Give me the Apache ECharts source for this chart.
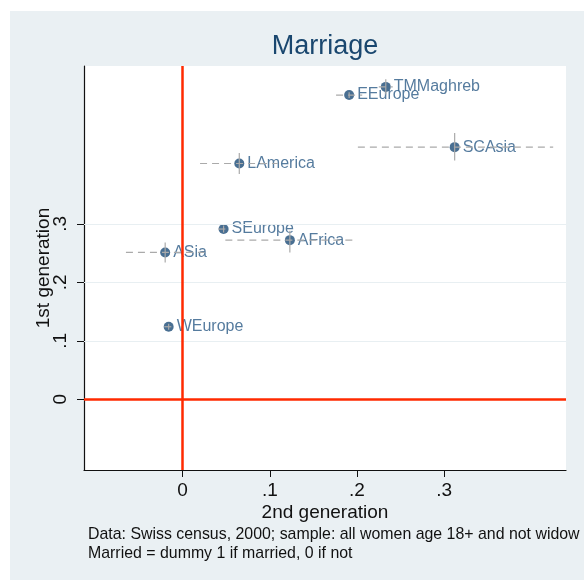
<!DOCTYPE html>
<html>
<head>
<meta charset="utf-8">
<script src="https://cdn.jsdelivr.net/npm/echarts@6/dist/echarts.min.js"></script>
<style>
html,body{margin:0;padding:0;background:#fff;}
#chart{width:584px;height:583px;}
</style>
</head>
<body>
<div id="chart"></div>
<script>
// ---- data ----
const regions   = ['WEurope','ASia','SEurope','AFrica','LAmerica','EEurope','TMMaghreb','SCAsia'];
const gen2      = [-0.016, -0.020, 0.047, 0.123, 0.065, 0.191, 0.233, 0.312];   // x: 2nd generation
const gen1      = [ 0.124,  0.251, 0.291, 0.272, 0.403, 0.520, 0.534, 0.431];   // y: 1st generation
const gen2Low   = [-0.021, -0.065, 0.041, 0.049, 0.020, 0.176, 0.225, 0.201];
const gen2High  = [-0.011,  0.025, 0.053, 0.199, 0.109, 0.206, 0.241, 0.425];
const gen1Low   = [ 0.119,  0.234, 0.285, 0.251, 0.385, 0.515, 0.521, 0.408];
const gen1High  = [ 0.129,  0.268, 0.297, 0.288, 0.421, 0.525, 0.547, 0.455];
const xTickValues = [0, 0.1, 0.2, 0.3];
const xTickLabels = ['0', '.1', '.2', '.3'];
const yTickValues = [0, 0.1, 0.2, 0.3];
const yTickLabels = ['0', '.1', '.2', '.3'];
const refX = [0];
const refY = [0];
const titleText = 'Marriage';
const xName = '2nd generation';
const yName = '1st generation';
const noteLines = ['Data: Swiss census, 2000; sample: all women age 18+ and not widow',
                   'Married = dummy 1 if married, 0 if not'];

const FONT = '"Liberation Sans", Arial, Helvetica, sans-serif';
const NAVY = '#1a476f';

const pts = regions.map((r, i) => ({ name: r, value: [gen2[i], gen1[i]] }));
const bars = regions.map((r, i) => [gen2[i], gen1[i], gen2Low[i], gen2High[i], gen1Low[i], gen1High[i]]);

const chart = echarts.init(document.getElementById('chart'), null, { renderer: 'canvas' });
chart.setOption({
  animation: false,
  backgroundColor: '#ffffff',
  graphic: [{
    type: 'rect', z: -100, silent: true,
    shape: { x: 10, y: 11, width: 574, height: 569 },
    style: { fill: '#eaf0f3' }
  }],
  title: [{
    text: titleText, left: 325, top: 33, padding: 0, textAlign: 'center',
    textStyle: { color: NAVY, fontSize: 27, fontWeight: 'normal', fontFamily: FONT }
  }, {
    text: noteLines.join('\n'), left: 88, top: 525, padding: 0,
    textStyle: { color: '#111', fontSize: 15.9, fontWeight: 'normal', fontFamily: FONT, lineHeight: 19 }
  }],
  grid: {
    left: 84, right: 18, top: 66, bottom: 113,
    show: true, backgroundColor: '#ffffff', borderWidth: 0
  },
  xAxis: {
    type: 'value', min: -0.1131, max: 0.4397,
    name: xName, nameLocation: 'middle', nameGap: 33, nameMoveOverlap: false,
    nameTextStyle: { color: '#111', fontSize: 19, fontFamily: FONT },
    axisLine: { show: true, onZero: false, lineStyle: { color: '#111', width: 1.2 } },
    axisTick: { show: true, length: 7, customValues: xTickValues, lineStyle: { color: '#111', width: 1 } },
    axisLabel: {
      customValues: xTickValues, margin: 11, color: '#111', fontSize: 19, fontFamily: FONT,
      formatter: v => xTickLabels[xTickValues.findIndex(t => Math.abs(t - v) < 1e-9)]
    },
    splitLine: { show: false }
  },
  yAxis: {
    type: 'value', min: -0.1209, max: 0.5697,
    name: yName, nameLocation: 'middle', nameGap: 31, nameRotate: 90, nameMoveOverlap: false,
    nameTextStyle: { color: '#111', fontSize: 19, fontFamily: FONT },
    axisLine: { show: true, onZero: false, lineStyle: { color: '#111', width: 1.2 } },
    axisTick: { show: true, length: 7, customValues: yTickValues, lineStyle: { color: '#111', width: 1 } },
    axisLabel: {
      customValues: yTickValues, margin: 14, rotate: 90, color: '#111', fontSize: 19, fontFamily: FONT,
      formatter: v => yTickLabels[yTickValues.findIndex(t => Math.abs(t - v) < 1e-9)]
    },
    splitLine: { show: false }
  },
  series: [
    {
      // gridlines
      type: 'line', data: [], z: 1, silent: true,
      markLine: {
        silent: true, symbol: 'none', animation: false,
        label: { show: false },
        data: yTickValues.map(v => ({ yAxis: v, lineStyle: { color: '#e8eff2', width: 1, type: 'solid' } }))
      }
    },
    {
      // reference lines at zero
      type: 'line', data: [], z: 2, silent: true,
      markLine: {
        silent: true, symbol: 'none', animation: false,
        label: { show: false },
        lineStyle: { color: '#ff2a00', width: 2.5, type: 'solid' },
        data: refX.map(v => ({ xAxis: v })).concat(refY.map(v => ({ yAxis: v })))
      }
    },
    {
      type: 'scatter', z: 3, data: pts,
      symbol: 'circle', symbolSize: 10,
      itemStyle: { color: '#1c4b77' },
      label: {
        show: true, position: 'right', distance: 3,
        formatter: p => p.name,
        color: '#2b5a86', fontSize: 16, fontFamily: FONT
      }
    },
    {
      type: 'custom', z: 4, silent: true, data: bars,
      renderItem: (params, api) => {
        const x = api.value(0), y = api.value(1);
        const a = api.coord([api.value(2), y]);
        const b = api.coord([api.value(3), y]);
        const c = api.coord([x, api.value(4)]);
        const d = api.coord([x, api.value(5)]);
        return {
          type: 'group',
          children: [
            { type: 'line', shape: { x1: a[0], y1: a[1], x2: b[0], y2: b[1] },
              style: { stroke: '#aaaaaa', lineWidth: 1.2, lineDash: [7, 5] } },
            { type: 'line', shape: { x1: c[0], y1: c[1], x2: d[0], y2: d[1] },
              style: { stroke: '#aaaaaa', lineWidth: 1.2 } }
          ]
        };
      }
    }
  ]
});
</script>
</body>
</html>
